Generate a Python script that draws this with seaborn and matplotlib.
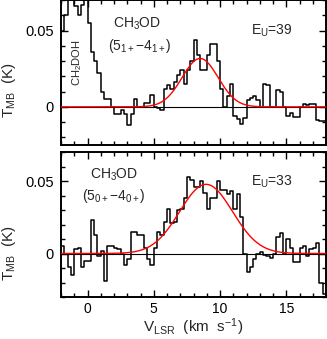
import numpy as np
import pandas as pd
import matplotlib
matplotlib.use("Agg")
import matplotlib.pyplot as plt
import seaborn as sns
from matplotlib.ticker import MultipleLocator

# ---- data -------------------------------------------------------------
chan_start = -2.125   # centre of first channel (km/s)
chan_width = 0.25     # km/s

# CH3OD (5_1+ - 4_1+), E_U = 39
tmb_top = [0.050,
    0.050, 0.060, 0.076, 0.080, 0.066, 0.060, 0.067, 0.080, 0.055, 0.036,
    0.030, 0.022, 0.010, 0.005, 0.005, 0.000, -0.005, -0.005, -0.002, -0.005,
    -0.012, -0.005, 0.005, 0.000, 0.000, 0.0025, 0.0025, 0.008, 0.000, -0.001,
    -0.002, 0.012, 0.014, 0.012, 0.0165, 0.021, 0.024, 0.015, 0.024, 0.030,
    0.044, 0.034, 0.024, 0.024, 0.034, 0.041, 0.041, 0.030, 0.012, 0.000,
    0.007, 0.015, -0.006, -0.008, -0.011, -0.007, 0.0045, 0.0055, 0.007, 0.0045,
    0.000, 0.015, 0.014, 0.000, 0.000, 0.011, 0.010, 0.000, -0.006, -0.004,
    -0.0065, -0.0065, 0.000, 0.002, 0.0013, 0.002, 0.002, -0.0085, -0.009, -0.009,
    0.007]

# CH3OD (5_0+ - 4_0+), E_U = 33
tmb_bot = [0.005,
    0.005, 0.000, -0.009, -0.015, 0.003, 0.0035, -0.009, -0.005, -0.005, 0.023,
    0.0125, -0.002, 0.002, -0.019, 0.005, 0.005, 0.004, 0.003, 0.000, -0.008,
    -0.004, 0.015, 0.015, 0.013, 0.013, 0.004, -0.004, -0.008, 0.0035, 0.015,
    0.013, 0.022, 0.031, 0.021, 0.022, 0.030, 0.031, 0.038, 0.053, 0.051,
    0.046, 0.046, 0.050, 0.042, 0.031, 0.038, 0.038, 0.050, 0.044, 0.044,
    0.041, 0.043, 0.031, 0.041, 0.025, 0.000, -0.013, -0.009, -0.0035, 0.000,
    0.001, -0.001, -0.002, -0.003, 0.000, 0.0115, 0.014, 0.000, 0.0097, 0.004,
    -0.006, -0.006, 0.0035, 0.005, -0.002, 0.003, 0.0035, 0.007, -0.020, -0.028,
    -0.030]

# Gaussian fits (amplitude K, centre km/s, FWHM km/s)
fit_top = (0.0317, 8.5, 3.2)
fit_bot = (0.0477, 8.95, 4.7)

labels_top = ["CH$\\mathregular{_3}$OD", "(5$\\mathregular{_{1+}}$\u22124$\\mathregular{_{1+}}$)", "E$\\mathregular{_U}$=39"]
labels_bot = ["CH$\\mathregular{_3}$OD", "(5$\\mathregular{_{0+}}$\u22124$\\mathregular{_{0+}}$)", "E$\\mathregular{_U}$=33"]
xlim = (-2, 18)
ylim_top = (-0.025, 0.07)
ylim_bot = (-0.03, 0.07)

# ---- style ------------------------------------------------------------
sns.set_theme(style="ticks")
plt.rcParams['font.family'] = ['Liberation Sans', 'DejaVu Sans']
plt.rcParams['mathtext.fontset'] = 'custom'
plt.rcParams['mathtext.rm'] = 'Liberation Sans'
plt.rcParams['mathtext.it'] = 'Liberation Sans:italic'

W, H = 327, 339
fig = plt.figure(figsize=(W / 100, H / 100), dpi=100)
ax1 = fig.add_axes([61 / W, 1 - 145 / H, 265 / W, 145 / H])
ax2 = fig.add_axes([61 / W, 1 - 297 / H, 265 / W, 145 / H])

vel_top = chan_start + chan_width * np.arange(len(tmb_top))
vel_bot = chan_start + chan_width * np.arange(len(tmb_bot))
vfine = np.linspace(xlim[0], xlim[1], 600)

def gauss(v, amp, v0, fwhm):
    s = fwhm / 2.3548
    return amp * np.exp(-0.5 * ((v - v0) / s) ** 2)

for ax, vel, tmb, fit, ylim in [(ax1, vel_top, tmb_top, fit_top, ylim_top),
                                (ax2, vel_bot, tmb_bot, fit_bot, ylim_bot)]:
    df = pd.DataFrame({"v": vel, "T": tmb})
    ax.axhline(0, color="black", lw=0.8, zorder=1)
    sns.lineplot(data=df, x="v", y="T", ax=ax, color="black", lw=1.1,
                 drawstyle="steps-mid", estimator=None, sort=False, zorder=2)
    gdf = pd.DataFrame({"v": vfine, "g": gauss(vfine, *fit)})
    sns.lineplot(data=gdf, x="v", y="g", ax=ax, color="#ff0000", lw=1.0,
                 estimator=None, sort=False, zorder=3)
    ax.set_xlim(*xlim)
    ax.set_ylim(*ylim)
    ax.xaxis.set_major_locator(MultipleLocator(5))
    ax.xaxis.set_minor_locator(MultipleLocator(1))
    ax.yaxis.set_major_locator(MultipleLocator(0.05))
    ax.yaxis.set_minor_locator(MultipleLocator(0.01))
    ax.tick_params(which="both", direction="in", top=True, right=True,
                   width=1.0, colors="black", labelsize=10.5)
    ax.tick_params(which="major", length=5, pad=5)
    ax.tick_params(which="minor", length=3)
    ax.tick_params(axis="x", which="major", pad=3.5, labelsize=10)
    ax.set_xlabel("")
    ax.set_ylabel("")
    ax.yaxis.set_major_formatter(plt.FuncFormatter(lambda y, p: "0" if abs(y) < 1e-9 else f"{y:g}"))
    for sp in ax.spines.values():
        sp.set_linewidth(1.4)
        sp.set_color("black")

ax1.tick_params(labelbottom=False)

def ftext(x, y, s, fs=10, **kw):
    kw.setdefault("ha", "center")
    kw.setdefault("va", "center")
    fig.text(x / W, 1 - y / H, s, fontsize=fs, **kw)

ftext(137, 24, labels_top[0])
ftext(140, 46, labels_top[1])
ftext(272, 31, labels_top[2])
ftext(77, 63, "CH$\\mathregular{_2}$DOH", fs=8, rotation=90)
ftext(114, 175, labels_bot[0])
ftext(114, 196, labels_bot[1])
ftext(272, 182, labels_bot[2])

ftext(9, 90, "T$\\mathregular{_{MB}}$  (K)", fs=11, rotation=90)
ftext(9, 253, "T$\\mathregular{_{MB}}$  (K)", fs=11, rotation=90)
ftext(193, 332, "V$\\mathregular{_{LSR}}$  (km  s$\\mathregular{^{-1}}$)", fs=11, va="baseline")

fig.savefig("out.png", dpi=100)
